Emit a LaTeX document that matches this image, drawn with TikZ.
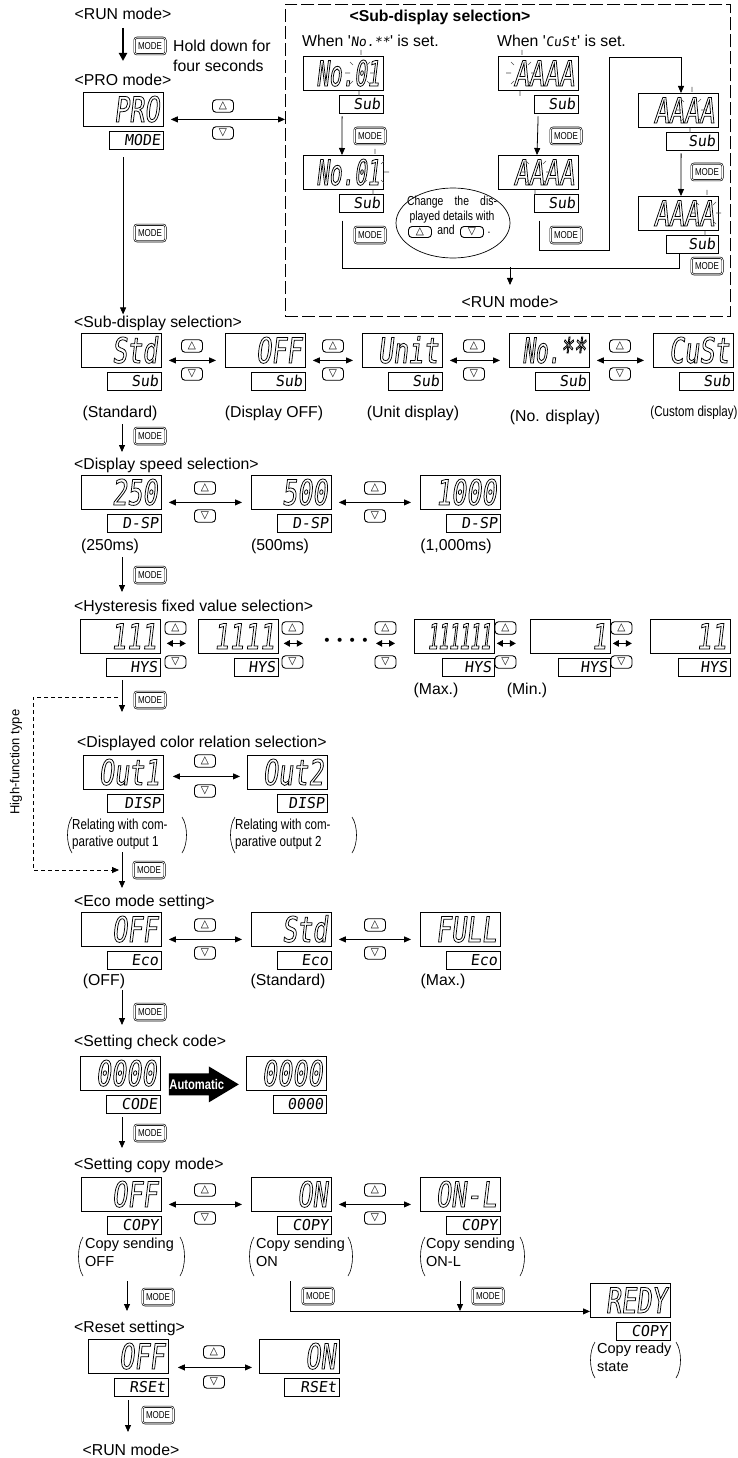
\documentclass[tikz,border=0pt]{standalone}
\usepackage{fontspec}
\setmainfont{Liberation Sans}
\newfontfamily\segfont{DejaVu Sans Mono}[FakeSlant=0.12,FakeStretch=0.72]
\newfontfamily\segnarrow{DejaVu Sans Mono}[FakeSlant=0.12,FakeStretch=0.6]
\newfontfamily\segvnarrow{DejaVu Sans Mono}[FakeSlant=0.12,FakeStretch=0.5]
\newfontfamily\subseg{DejaVu Sans Mono}[FakeSlant=0.12]
\newfontfamily\condfont{Liberation Sans}[FakeStretch=0.8]
\newfontfamily\symfont{DejaVu Sans}
\usetikzlibrary{arrows.meta,calc,shapes.geometric}
\newcommand\hollowon{\special{pdf:literal direct 1 Tr 0.75 w}}
\newcommand\hollowoff{\special{pdf:literal direct 0 Tr}}
\newcommand\dsp[6]{%
  \node[lcd] (#1) at (#2,#3) {#4};
  \node[subd=#6] (s#1) at ($(#1.south east)+(0,4)$) {#5};}
\newcommand\updown[4]{%
  \node[updn] (#1u) at (#2,#3) {△};
  \node[updn] (#1d) at (#2,#4) {▽};}
\newcommand\mylpar[3]{\draw[parn] (#1+5,#2) .. controls (#1-1,#2+9) and (#1-1,#3-9) .. (#1+5,#3);}
\newcommand\myrpar[3]{\draw[parn] (#1-5,#2) .. controls (#1+1,#2+9) and (#1+1,#3-9) .. (#1-5,#3);}
\newcommand\blinkmark[3]{%
  \draw[blk] (#1+1,#2-6) -- (#1+1,#2-1)
    (#1-1,#3+1) -- (#1-1,#3+6)
    (#1-15,#2+17) -- (#1-10,#2+17)
    (#1+10,#2+17) -- (#1+15,#2+17)
    (#1-10,#2+6) -- (#1-7,#2+9)
    (#1+7,#2+9) -- (#1+10,#2+6)
    (#1-10,#3-6) -- (#1-7,#3-9)
    (#1+7,#3-9) -- (#1+10,#3-6);}
\begin{document}
\begin{tikzpicture}[
  x=1pt,y=-1pt,
  lbl/.style={font=\fontsize{15.8}{20}\selectfont, inner sep=1pt},
  rowlbl/.style={lbl, anchor=west},
  cond/.style={font=\condfont\fontsize{14.5}{17}\selectfont, inner sep=1pt},
  capt/.style={font=\fontsize{14.5}{18}\selectfont, anchor=north west, align=left, inner sep=0pt},
  lcd/.style={draw, line width=0.8pt, anchor=north west, text width=72pt, align=right, inner xsep=4pt, inner ysep=0pt, minimum height=34pt, text height=25pt, text depth=0pt, font=\segfont\fontsize{35}{35}\selectfont, execute at begin node=\hollowon, execute at end node=\hollowoff},
  subd/.style={draw, line width=0.7pt, anchor=north east, text width=#1, align=right, inner xsep=3pt, inner ysep=0pt, minimum height=18pt, text height=11.5pt, text depth=0pt, font=\subseg\fontsize{15}{15}\selectfont},
  subd/.default=48pt,
  updn/.style={draw, line width=0.9pt, rounded corners=3.5pt, minimum width=21pt, minimum height=12.5pt, inner sep=0pt, font=\symfont\fontsize{10.5}{10.5}\selectfont},
  modeb/.style={draw, double, double distance=0.8pt, line width=0.6pt, rounded corners=2.5pt, minimum width=31pt, minimum height=16.5pt, inner sep=0pt, font=\condfont\fontsize{10}{10}\selectfont},
  arr/.style={-{Triangle[length=7pt,width=6pt]}, line width=0.8pt},
  darr/.style={{Triangle[length=7pt,width=6pt]}-{Triangle[length=7pt,width=6pt]}, line width=0.8pt},
  sdarr/.style={{Triangle[length=6pt,width=6.5pt]}-{Triangle[length=6pt,width=6.5pt]}, line width=0.8pt},
  parn/.style={line width=0.6pt},
  blk/.style={line width=0.6pt, black!70},
  ln/.style={line width=0.8pt},
]
\fill[white] (0,0) rectangle (738,1458);
\useasboundingbox (0,0) rectangle (738,1458);

% ---------- top: RUN -> PRO ----------
\node[lbl] (run1) at (123,14) {<RUN mode>};
\node[modeb] (m0) at (150,46) {MODE};
\node[lbl, anchor=west, align=left] (hold) at (172,56) {Hold down for\\four seconds};
\node[lbl] (pro) at (123,80) {<PRO mode>};
\draw[-{Triangle[length=8pt,width=8pt]}, line width=2.2pt] ($(run1.south)+(0,7)$) -- ($(pro.north)+(0,-12)$);
\dsp{dpro}{83}{92}{PRO}{MODE}{48pt}
\updown{pb}{223}{106}{133}
\node[draw, dash pattern=on 13pt off 4pt, line width=0.7pt, anchor=north west, minimum width=445pt, minimum height=312pt, inner sep=0pt] (dbox) at (285,4) {};
\coordinate (pa) at ($(dpro.east)+(7,10)$);
\draw[darr] (pa) -- (pa -| dbox.west);
\node[modeb] (mA) at (150,233) {MODE};

% ---------- dashed box ----------
\node[lbl, font=\bfseries\fontsize{15.8}{19}\selectfont] (dtitle) at (440,17) {<Sub-display selection>};
\node[lbl, anchor=west] (when1) at (301,41) {When \textquotesingle{\subseg\fontsize{13}{13}\selectfont No.**}\textquotesingle\ is set.};
\node[lbl, anchor=west] (when2) at (496,41) {When \textquotesingle{\subseg\fontsize{13}{13}\selectfont CuSt}\textquotesingle\ is set.};
\dsp{n1}{303}{56}{{\segnarrow No.01}}{Sub}{38pt}
\dsp{n2}{303}{155}{{\segnarrow No.01}}{Sub}{38pt}
\node[modeb] (m1) at (370,136) {MODE};
\node[modeb] (m2) at (370,235) {MODE};
\dsp{a1}{498}{56}{AAAA}{Sub}{38pt}
\dsp{a2}{498}{155}{AAAA}{Sub}{38pt}
\node[modeb] (m3) at (566,136) {MODE};
\node[modeb] (m4) at (566,235) {MODE};
\dsp{a3}{638}{93}{AAAA}{Sub}{46pt}
\dsp{a4}{638}{196}{AAAA}{Sub}{46pt}
\node[modeb] (m5) at (707,172) {MODE};
\node[modeb] (m6) at (707,266) {MODE};
\blinkmark{360}{56}{90}
\blinkmark{374}{155}{189}
\blinkmark{521}{56}{90}
\blinkmark{536}{155}{189}
\blinkmark{691}{93}{127}
\blinkmark{706}{196}{230}
\draw[arr] ($(sn1.south west)+(3,3)$) -- ($(n2.north west)+(39,0)$);
\draw[arr] ($(sa1.south west)+(4,3)$) -- ($(a2.north west)+(39,0)$);
\draw[arr] ($(sa3.south west)+(15,3)$) -- ($(a4.north west)+(43,0)$);
\draw[arr] ($(sa2.south west)+(5,8)$) |- ++(70,30) |- ($(a3.north west)+(43,-36)$) -- ($(a3.north west)+(43,0)$);
\draw[ln] ($(sn2.south west)+(3,8)$) |- ($(sa4.south west)+(13,15)$) -- ($(sa4.south west)+(13,0)$);
\node[lbl] (run2) at (510,302) {<RUN mode>};
\coordinate (jr) at (510,267);
\draw[arr, shorten >=10pt] (jr) -- (run2.north);
\node[draw, ellipse, line width=0.7pt, minimum width=114pt, minimum height=70pt, inner sep=0pt] (ell) at (453,223) {};
\node[font=\condfont\fontsize{13}{15}\selectfont, align=center, inner sep=0pt] (etxt) at (452,210) {\makebox[90pt][s]{Change the dis-}\\played details with};
\node[updn, minimum width=23pt, minimum height=11pt] (eu) at (420,232) {△};
\node[font=\condfont\fontsize{13}{15}\selectfont, inner sep=0pt] (eand) at (446,230) {and};
\node[updn, minimum width=23pt, minimum height=11pt] (ed) at (472,232) {▽};
\node[font=\condfont\fontsize{13}{15}\selectfont, inner sep=0pt] (edot) at (489,233) {.};

% ---------- Sub-display selection ----------
\node[rowlbl] (lblB) at (73,323) {<Sub-display selection>};
\coordinate (vA0) at ($(sdpro.south west)+(14,8)$);
\draw[arr] (vA0) -- (vA0 |- lblB.north);
\dsp{b1}{81}{333}{Std}{Sub}{48pt}
\dsp{b2}{225}{333}{OFF}{Sub}{48pt}
\dsp{b3}{362}{333}{Unit}{Sub}{48pt}
\dsp{b4}{509}{333}{{\segnarrow No.**}}{Sub}{48pt}
\dsp{b5}{653}{333}{CuSt}{Sub}{48pt}
\draw[darr] ($(b1.east)+(7,10)$) -- ($(b2.west)+(-9,10)$);
\draw[darr] ($(b2.east)+(7,10)$) -- ($(b3.west)+(-9,10)$);
\draw[darr] ($(b3.east)+(7,10)$) -- ($(b4.west)+(-9,10)$);
\draw[darr] ($(b4.east)+(7,10)$) -- ($(b5.west)+(-9,10)$);
\updown{bb1}{192}{346}{374}
\updown{bb2}{333}{346}{374}
\updown{bb3}{474}{346}{374}
\updown{bb4}{620}{346}{374}
\node[lbl] (capB1) at (120,413) {(Standard)};
\node[lbl] (capB2) at (274,413) {(Display OFF)};
\node[lbl] (capB3) at (413,413) {(Unit display)};
\node[lbl] (capB4) at (555,417) {(No. display)};
\node[cond] (capB5) at (694,413) {(Custom display)};
\coordinate (vB0) at (122,424);
\coordinate (vB1) at (122,452);
\draw[arr] (vB0) -- (vB1);
\node[modeb] (mB) at (150,436) {MODE};

% ---------- Display speed ----------
\node[rowlbl] (lblC) at (73,465) {<Display speed selection>};
\dsp{c1}{81}{475}{250}{D-SP}{48pt}
\dsp{c2}{251}{475}{500}{D-SP}{48pt}
\dsp{c3}{420}{475}{1000}{D-SP}{48pt}
\draw[darr] ($(c1.east)+(7,10)$) -- ($(c2.west)+(-9,10)$);
\draw[darr] ($(c2.east)+(7,10)$) -- ($(c3.west)+(-9,10)$);
\updown{cbt1}{205}{488}{516}
\updown{cbt2}{375}{488}{516}
\node[lbl] (capC1) at (110,546) {(250ms)};
\node[lbl] (capC2) at (280,546) {(500ms)};
\node[lbl] (capC3) at (456,546) {(1,000ms)};
\coordinate (vC0) at (122,557);
\coordinate (vC1) at (122,592);
\draw[arr] (vC0) -- (vC1);
\node[modeb] (mC) at (150,575) {MODE};

% ---------- Hysteresis ----------
\node[rowlbl] (lblD) at (73,607) {<Hysteresis fixed value selection>};
\dsp{d1}{80}{619}{111}{HYS}{48pt}
\dsp{d2}{198}{619}{1111}{HYS}{38pt}
\dsp{d3}{414}{619}{{\segvnarrow 111111}}{HYS}{46pt}
\dsp{d4}{530}{619}{1}{HYS}{46pt}
\dsp{d5}{650}{619}{11}{HYS}{46pt}
\draw[sdarr] ($(d1.east)+(6,7)$) -- ($(d1.east)+(25,7)$);
\draw[sdarr] ($(d2.east)+(5,7)$) -- ($(d2.east)+(24,7)$);
\draw[sdarr] ($(d3.west)+(-38,7)$) -- ($(d3.west)+(-19,7)$);
\draw[sdarr] ($(d3.east)+(2,7)$) -- ($(d3.east)+(21,7)$);
\draw[sdarr] ($(d4.east)+(2,7)$) -- ($(d4.east)+(21,7)$);
\updown{hb1}{175.5}{628}{662}
\updown{hb2}{292.5}{628}{662}
\updown{hb3}{385.5}{628}{662}
\updown{hb4}{505.5}{628}{662}
\updown{hb5}{621.5}{628}{662}
\node[font=\symfont\fontsize{14}{14}\selectfont, inner sep=0pt] (dots) at (346,642) {• • • •};
\node[lbl] (capD3) at (436,690) {(Max.)};
\node[lbl] (capD4) at (527,690) {(Min.)};
\coordinate (vD0) at (122,680);
\coordinate (vD1) at (122,712);
\draw[arr] (vD0) -- (vD1);
\node[modeb] (mD) at (150,700) {MODE};
\coordinate (hf0) at (118,697);
\coordinate (hf1) at (33,697);
\coordinate (hf2) at (33,870);
\coordinate (hf3) at (119,870);
\draw[arr, dash pattern=on 4pt off 3pt] (hf0) -- (hf1) -- (hf2) -- (hf3);
\node[font=\fontsize{13}{13}\selectfont, rotate=90, inner sep=0pt] (hft) at (16,762) {High-function type};

% ---------- Displayed color relation ----------
\node[rowlbl] (lblE) at (76,743) {<Displayed color relation selection>};
\dsp{e1}{83}{755}{Out1}{DISP}{50pt}
\dsp{e2}{247}{755}{Out2}{DISP}{44pt}
\draw[darr] ($(e1.east)+(9,4)$) -- ($(e2.west)+(-7,4)$);
\updown{ebt}{205}{761}{791}
\node[cond, anchor=north west, align=left, inner sep=0pt] (ce1) at (72,819) {Relating with com-\\parative output 1};
\mylpar{67}{817}{853}
\myrpar{187}{817}{853}
\node[cond, anchor=north west, align=left, inner sep=0pt] (ce2) at (235,819) {Relating with com-\\parative output 2};
\mylpar{230}{817}{853}
\myrpar{357}{817}{853}
\coordinate (vE0) at (122,852);
\coordinate (vE1) at (122,888);
\draw[arr] (vE0) -- (vE1);
\node[modeb] (mE) at (149,870) {MODE};

% ---------- Eco mode ----------
\node[rowlbl] (lblF) at (73,902) {<Eco mode setting>};
\dsp{f1}{81}{912}{OFF}{Eco}{48pt}
\dsp{f2}{251}{912}{Std}{Eco}{48pt}
\dsp{f3}{420}{912}{FULL}{Eco}{48pt}
\draw[darr] ($(f1.east)+(7,10)$) -- ($(f2.west)+(-9,10)$);
\draw[darr] ($(f2.east)+(7,10)$) -- ($(f3.west)+(-9,10)$);
\updown{fbt1}{205}{925}{953}
\updown{fbt2}{375}{925}{953}
\node[lbl] (capF1) at (104,981) {(OFF)};
\node[lbl] (capF2) at (288,981) {(Standard)};
\node[lbl] (capF3) at (443,981) {(Max.)};
\coordinate (vF0) at (122,990);
\coordinate (vF1) at (122,1025);
\draw[arr] (vF0) -- (vF1);
\node[modeb] (mF) at (150,1012) {MODE};

% ---------- Check code ----------
\node[rowlbl] (lblG) at (73,1042) {<Setting check code>};
\dsp{g1}{80}{1056}{0000}{CODE}{48pt}
\dsp{g2}{246}{1056}{0000}{0000}{47pt}
\fill ($(g1.east)+(8,0)$) -- ($(g1.east)+(48,0)$) -- ($(g1.east)+(48,-7)$) -- ($(g1.east)+(78,11)$) -- ($(g1.east)+(48,29)$) -- ($(g1.east)+(48,22)$) -- ($(g1.east)+(8,22)$) -- cycle;
\node[font=\condfont\bfseries\fontsize{14}{14}\selectfont, text=white, inner sep=0pt] (autot) at ($(g1.east)+(36,11)$) {Automatic};
\coordinate (vG0) at (122,1117);
\coordinate (vG1) at (122,1148);
\draw[arr] (vG0) -- (vG1);
\node[modeb] (mG) at (150,1133) {MODE};

% ---------- Copy mode ----------
\node[rowlbl] (lblH) at (73,1165) {<Setting copy mode>};
\dsp{h1}{81}{1177}{OFF}{COPY}{48pt}
\dsp{h2}{251}{1177}{ON}{COPY}{48pt}
\dsp{h3}{420}{1177}{ON-L}{COPY}{48pt}
\draw[darr] ($(h1.east)+(7,10)$) -- ($(h2.west)+(-9,10)$);
\draw[darr] ($(h2.east)+(7,10)$) -- ($(h3.west)+(-9,10)$);
\updown{hbt1}{205}{1190}{1218}
\updown{hbt2}{375}{1190}{1218}
\node[capt] (ch1) at (85,1238) {Copy sending\\OFF};
\mylpar{78}{1237}{1276}
\myrpar{185}{1237}{1276}
\node[capt] (ch2) at (256,1238) {Copy sending\\ON};
\mylpar{249}{1237}{1276}
\myrpar{353}{1237}{1276}
\node[capt] (ch3) at (426,1238) {Copy sending\\ON-L};
\mylpar{420}{1237}{1276}
\myrpar{525}{1237}{1276}
\dsp{r1}{590}{1283}{REDY}{COPY}{48pt}
\node[capt] (cr1) at (597,1343) {Copy ready\\state};
\mylpar{590}{1342}{1378}
\myrpar{681}{1342}{1378}
\coordinate (vH0) at (127,1281);
\coordinate (vH1) at (127,1311);
\draw[arr] (vH0) -- (vH1);
\node[modeb] (mH1) at (158,1297) {MODE};
\coordinate (br0) at (290,1281);
\draw[arr] (br0) |- ($(r1.west)+(0,11)$);
\node[modeb] (mH2) at (318,1296) {MODE};
\coordinate (br1) at (460,1281);
\coordinate (br2) at (460,1311);
\draw[arr] (br1) -- (br2);
\node[modeb] (mH3) at (488,1296) {MODE};

% ---------- Reset ----------
\node[rowlbl] (lblI) at (73,1328) {<Reset setting>};
\dsp{i1}{88}{1339}{OFF}{RSEt}{48pt}
\dsp{i2}{259}{1339}{ON}{RSEt}{49pt}
\draw[darr] ($(i1.east)+(9,11)$) -- ($(i2.west)+(-7,11)$);
\updown{ibt}{214}{1352}{1382}
\coordinate (vI0) at (128,1400);
\coordinate (vI1) at (128,1432);
\draw[arr] (vI0) -- (vI1);
\node[modeb] (mI) at (158,1415) {MODE};
\node[lbl] (run3) at (131,1450) {<RUN mode>};
\end{tikzpicture}
\end{document}
